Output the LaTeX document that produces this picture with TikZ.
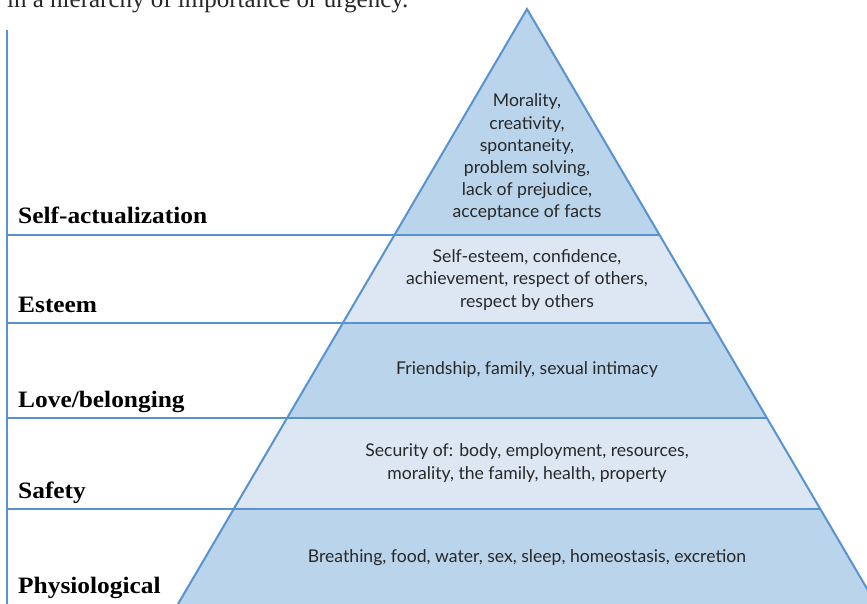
\documentclass[tikz,border=0pt]{standalone}
\usepackage{fontspec}
\setmainfont{Liberation Serif}
\newfontfamily\bodyfont{Lato}
\newfontfamily\labelfont[FakeStretch=1.08]{Liberation Serif}
\definecolor{edgeblue}{RGB}{88,146,207}
\definecolor{darkband}{RGB}{185,212,235}
\definecolor{lightband}{RGB}{220,231,243}
\definecolor{txt}{RGB}{40,40,40}
\tikzset{
  bandline/.style={draw=edgeblue, line width=2pt},
  bodytext/.style={font=\bodyfont\fontsize{17.6}{22.2}\selectfont, text=txt, align=center, inner sep=0pt, anchor=base},
  levellabel/.style={font=\labelfont\bfseries\fontsize{23.5}{26}\selectfont, text=black, inner sep=0pt, anchor=base west},
}
\begin{document}
\begin{tikzpicture}[x=1pt,y=-1pt]
\useasboundingbox (0,0) rectangle (867,604);
\clip (0,0) rectangle (867,604);
% coordinates of the pyramid
\coordinate (apex) at (527,9);
\coordinate (l1) at (394.4,235); \coordinate (r1) at (659.6,235);
\coordinate (l2) at (342.8,323); \coordinate (r2) at (711.2,323);
\coordinate (l3) at (287.1,418); \coordinate (r3) at (766.9,418);
\coordinate (l4) at (233.7,509); \coordinate (r4) at (820.3,509);
\coordinate (l5) at (178.0,604); \coordinate (r5) at (876.0,604);
\coordinate (v1) at (7,235); \coordinate (v2) at (7,323);
\coordinate (v3) at (7,418); \coordinate (v4) at (7,509);
\coordinate (vtop) at (7,30); \coordinate (vbot) at (7,606);
% bands
\fill[darkband] (apex) -- (r1) -- (l1) -- cycle;
\fill[lightband] (l1) -- (r1) -- (r2) -- (l2) -- cycle;
\fill[darkband] (l2) -- (r2) -- (r3) -- (l3) -- cycle;
\fill[lightband] (l3) -- (r3) -- (r4) -- (l4) -- cycle;
\fill[darkband] (l4) -- (r4) -- (r5) -- (l5) -- cycle;
% outlines
\draw[bandline] (l5) -- (apex) -- (r5);
\draw[bandline] (vtop) -- (vbot);
\draw[bandline] (v1) -- (r1);
\draw[bandline] (v2) -- (r2);
\draw[bandline] (v3) -- (r3);
\draw[bandline] (v4) -- (r4);
% top text
\node[font=\fontsize{25}{28}\selectfont, text=txt, inner sep=0pt, anchor=base west] (intro) at (7,8) {in a hierarchy of importance or urgency.};
% contents
\node[bodytext] (t1) at (527,218) {Morality,\\creativity,\\spontaneity,\\problem solving,\\lack of prejudice,\\acceptance of facts};
\node[bodytext] (t2) at (527,307) {Self-esteem, confidence,\\achievement, respect of others,\\respect by others};
\node[bodytext] (t3) at (527,374) {Friendship, family, sexual intimacy};
\node[bodytext] (t4) at (527,479) {Security of: body, employment, resources,\\morality, the family, health, property};
\node[bodytext] (t5) at (527,562) {Breathing, food, water, sex, sleep, homeostasis, excretion};
% labels
\node[levellabel] (s1) at (18,223) {Self-actualization};
\node[levellabel] (s2) at (18,312) {Esteem};
\node[levellabel] (s3) at (18,407) {Love/belonging};
\node[levellabel] (s4) at (18,498) {Safety};
\node[levellabel] (s5) at (18,593) {Physiological};
\end{tikzpicture}
\end{document}
